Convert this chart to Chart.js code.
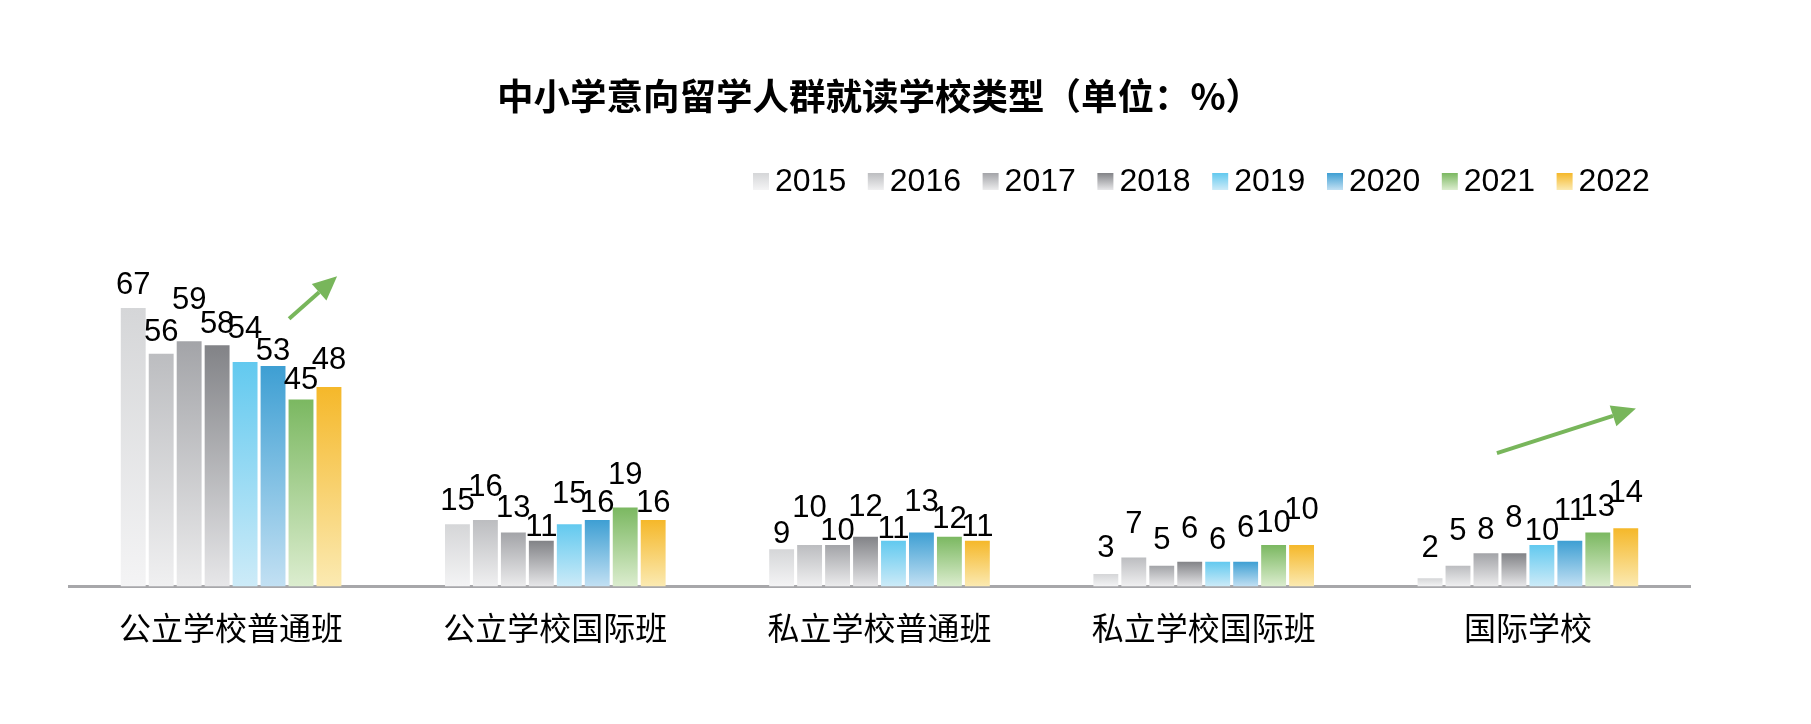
<!DOCTYPE html>
<html>
<head>
<meta charset="utf-8">
<script src="https://cdn.jsdelivr.net/npm/chart.js@4.4.1/dist/chart.umd.min.js"></script>
<style>
  html, body { margin: 0; padding: 0; background: #fff; }
  #wrap { width: 1811px; height: 724px; }
</style>
</head>
<body>
<div id="wrap"><canvas id="schoolChart" width="1811" height="724"></canvas></div>
<script>
// Data
const categories = ["公立学校普通班", "公立学校国际班", "私立学校普通班", "私立学校国际班", "国际学校"];
const years = ["2015", "2016", "2017", "2018", "2019", "2020", "2021", "2022"];
const v2015 = [67, 15, 9, 3, 2];
const v2016 = [56, 16, 10, 7, 5];
const v2017 = [59, 13, 10, 5, 8];
const v2018 = [58, 11, 12, 6, 8];
const v2019 = [54, 15, 11, 6, 10];
const v2020 = [53, 16, 13, 6, 11];
const v2021 = [45, 19, 12, 10, 13];
const v2022 = [48, 16, 11, 10, 14];
const seriesValues = [v2015, v2016, v2017, v2018, v2019, v2020, v2021, v2022];

// top colour / bottom colour of each year's gradient
const topColors = ["#d5d6d8", "#bcbdc0", "#a3a4a8", "#828387", "#62c9ef", "#3e9fd3", "#7bb861", "#f5b82a"];
const bottomColors = ["#f4f4f5", "#f0f0f1", "#ececed", "#e7e7e9", "#cdebf8", "#c2e0f3", "#dcedcf", "#fbeab2"];

// how far each value label sits above its bar (px), per category then year
const labelGap = [
  [14, 13, 32, 12, 24, 6, 10, 18],
  [14, 24, 16, 5, 21, 8, 24, 8],
  [6, 28, 5, 21, 3, 22, 9, 5],
  [17, 24, 17, 24, 13, 25, 13, 26],
  [21, 26, 14, 26, 5, 21, 17, 26]
];

const labelFont = '31px "Liberation Sans", Arial, sans-serif';

function barGradient(c, i) {
  const chart = c.chart;
  const y = chart.scales.y;
  if (!y || c.raw === undefined) return topColors[i];
  const top = y.getPixelForValue(c.raw);
  const bottom = y.getPixelForValue(0);
  if (!isFinite(top) || !isFinite(bottom) || top === bottom) return topColors[i];
  const g = chart.ctx.createLinearGradient(0, top, 0, bottom);
  g.addColorStop(0, topColors[i]);
  g.addColorStop(1, bottomColors[i]);
  return g;
}

const datasets = years.map((yr, i) => ({
  label: yr,
  data: seriesValues[i],
  backgroundColor: (c) => barGradient(c, i),
  borderWidth: 0,
  categoryPercentage: 0.69,
  barPercentage: 0.89
}));

// value labels above bars
const valueLabels = {
  id: "valueLabels",
  afterDatasetsDraw(chart) {
    const ctx = chart.ctx;
    ctx.save();
    ctx.font = labelFont;
    ctx.fillStyle = "#000";
    ctx.textAlign = "center";
    ctx.textBaseline = "alphabetic";
    chart.data.datasets.forEach((ds, i) => {
      chart.getDatasetMeta(i).data.forEach((bar, j) => {
        ctx.fillText(String(ds.data[j]), bar.x, bar.y - labelGap[j][i]);
      });
    });
    ctx.restore();
  }
};

// legend row with small gradient boxes
const yearLegend = {
  id: "yearLegend",
  afterDraw(chart) {
    const ctx = chart.ctx;
    const left = 753, step = 114.8, boxTop = 173, boxW = 16, boxH = 17;
    ctx.save();
    ctx.font = '32px "Liberation Sans", Arial, sans-serif';
    ctx.textBaseline = "middle";
    ctx.textAlign = "left";
    years.forEach((yr, i) => {
      const x = left + i * step;
      const g = ctx.createLinearGradient(0, boxTop, 0, boxTop + boxH);
      g.addColorStop(0, topColors[i]);
      g.addColorStop(1, bottomColors[i]);
      ctx.fillStyle = g;
      ctx.fillRect(x, boxTop, boxW, boxH);
      ctx.fillStyle = "#000";
      ctx.fillText(yr, x + boxW + 6, boxTop + boxH / 2 + 1);
    });
    ctx.restore();
  }
};

// green trend arrows, anchored to category and value
const trendArrows = [
  { cat: 0, from: [58, 64.4], to: [106, 74.6] },
  { cat: 4, from: [-31, 32.1], to: [108, 42.8] }
];
const arrowPlugin = {
  id: "arrowPlugin",
  afterDraw(chart) {
    const ctx = chart.ctx;
    const xs = chart.scales.x, ys = chart.scales.y;
    ctx.save();
    ctx.strokeStyle = "#78b65b";
    ctx.fillStyle = "#78b65b";
    ctx.lineWidth = 4;
    trendArrows.forEach((a) => {
      const cx = xs.getPixelForValue(a.cat);
      const x1 = cx + a.from[0], y1 = ys.getPixelForValue(a.from[1]);
      const x2 = cx + a.to[0], y2 = ys.getPixelForValue(a.to[1]);
      const ang = Math.atan2(y2 - y1, x2 - x1);
      const headLen = 24, headW = 11;
      const bx = x2 - headLen * Math.cos(ang), by = y2 - headLen * Math.sin(ang);
      ctx.beginPath();
      ctx.moveTo(x1, y1);
      ctx.lineTo(bx, by);
      ctx.stroke();
      ctx.beginPath();
      ctx.moveTo(x2, y2);
      ctx.lineTo(bx + headW * Math.sin(ang), by - headW * Math.cos(ang));
      ctx.lineTo(bx - headW * Math.sin(ang), by + headW * Math.cos(ang));
      ctx.closePath();
      ctx.fill();
    });
    ctx.restore();
  }
};

const chart = new Chart(document.getElementById("schoolChart"), {
  type: "bar",
  data: { labels: categories, datasets: datasets },
  options: {
    responsive: false,
    animation: false,
    devicePixelRatio: 1,
    layout: { padding: { left: 69, right: 121, top: 0, bottom: 55 } },
    plugins: {
      legend: { display: false },
      tooltip: { enabled: false },
      title: {
        display: true,
        text: "中小学意向留学人群就读学校类型（单位：%）",
        color: "#000",
        font: { family: '"Noto Sans CJK SC", sans-serif', size: 36.5, weight: "bold", lineHeight: 1.2 },
        padding: { top: 74, bottom: 136 }
      }
    },
    scales: {
      x: {
        grid: { display: false, drawTicks: false },
        border: { display: true, color: "#a7a7aa", width: 3 },
        ticks: {
          color: "#000",
          padding: 22,
          font: { family: '"Noto Sans CJK SC", sans-serif', size: 32 }
        }
      },
      y: {
        display: false,
        min: 0,
        max: 80
      }
    }
  },
  plugins: [valueLabels, yearLegend, arrowPlugin]
});
</script>
</body>
</html>
